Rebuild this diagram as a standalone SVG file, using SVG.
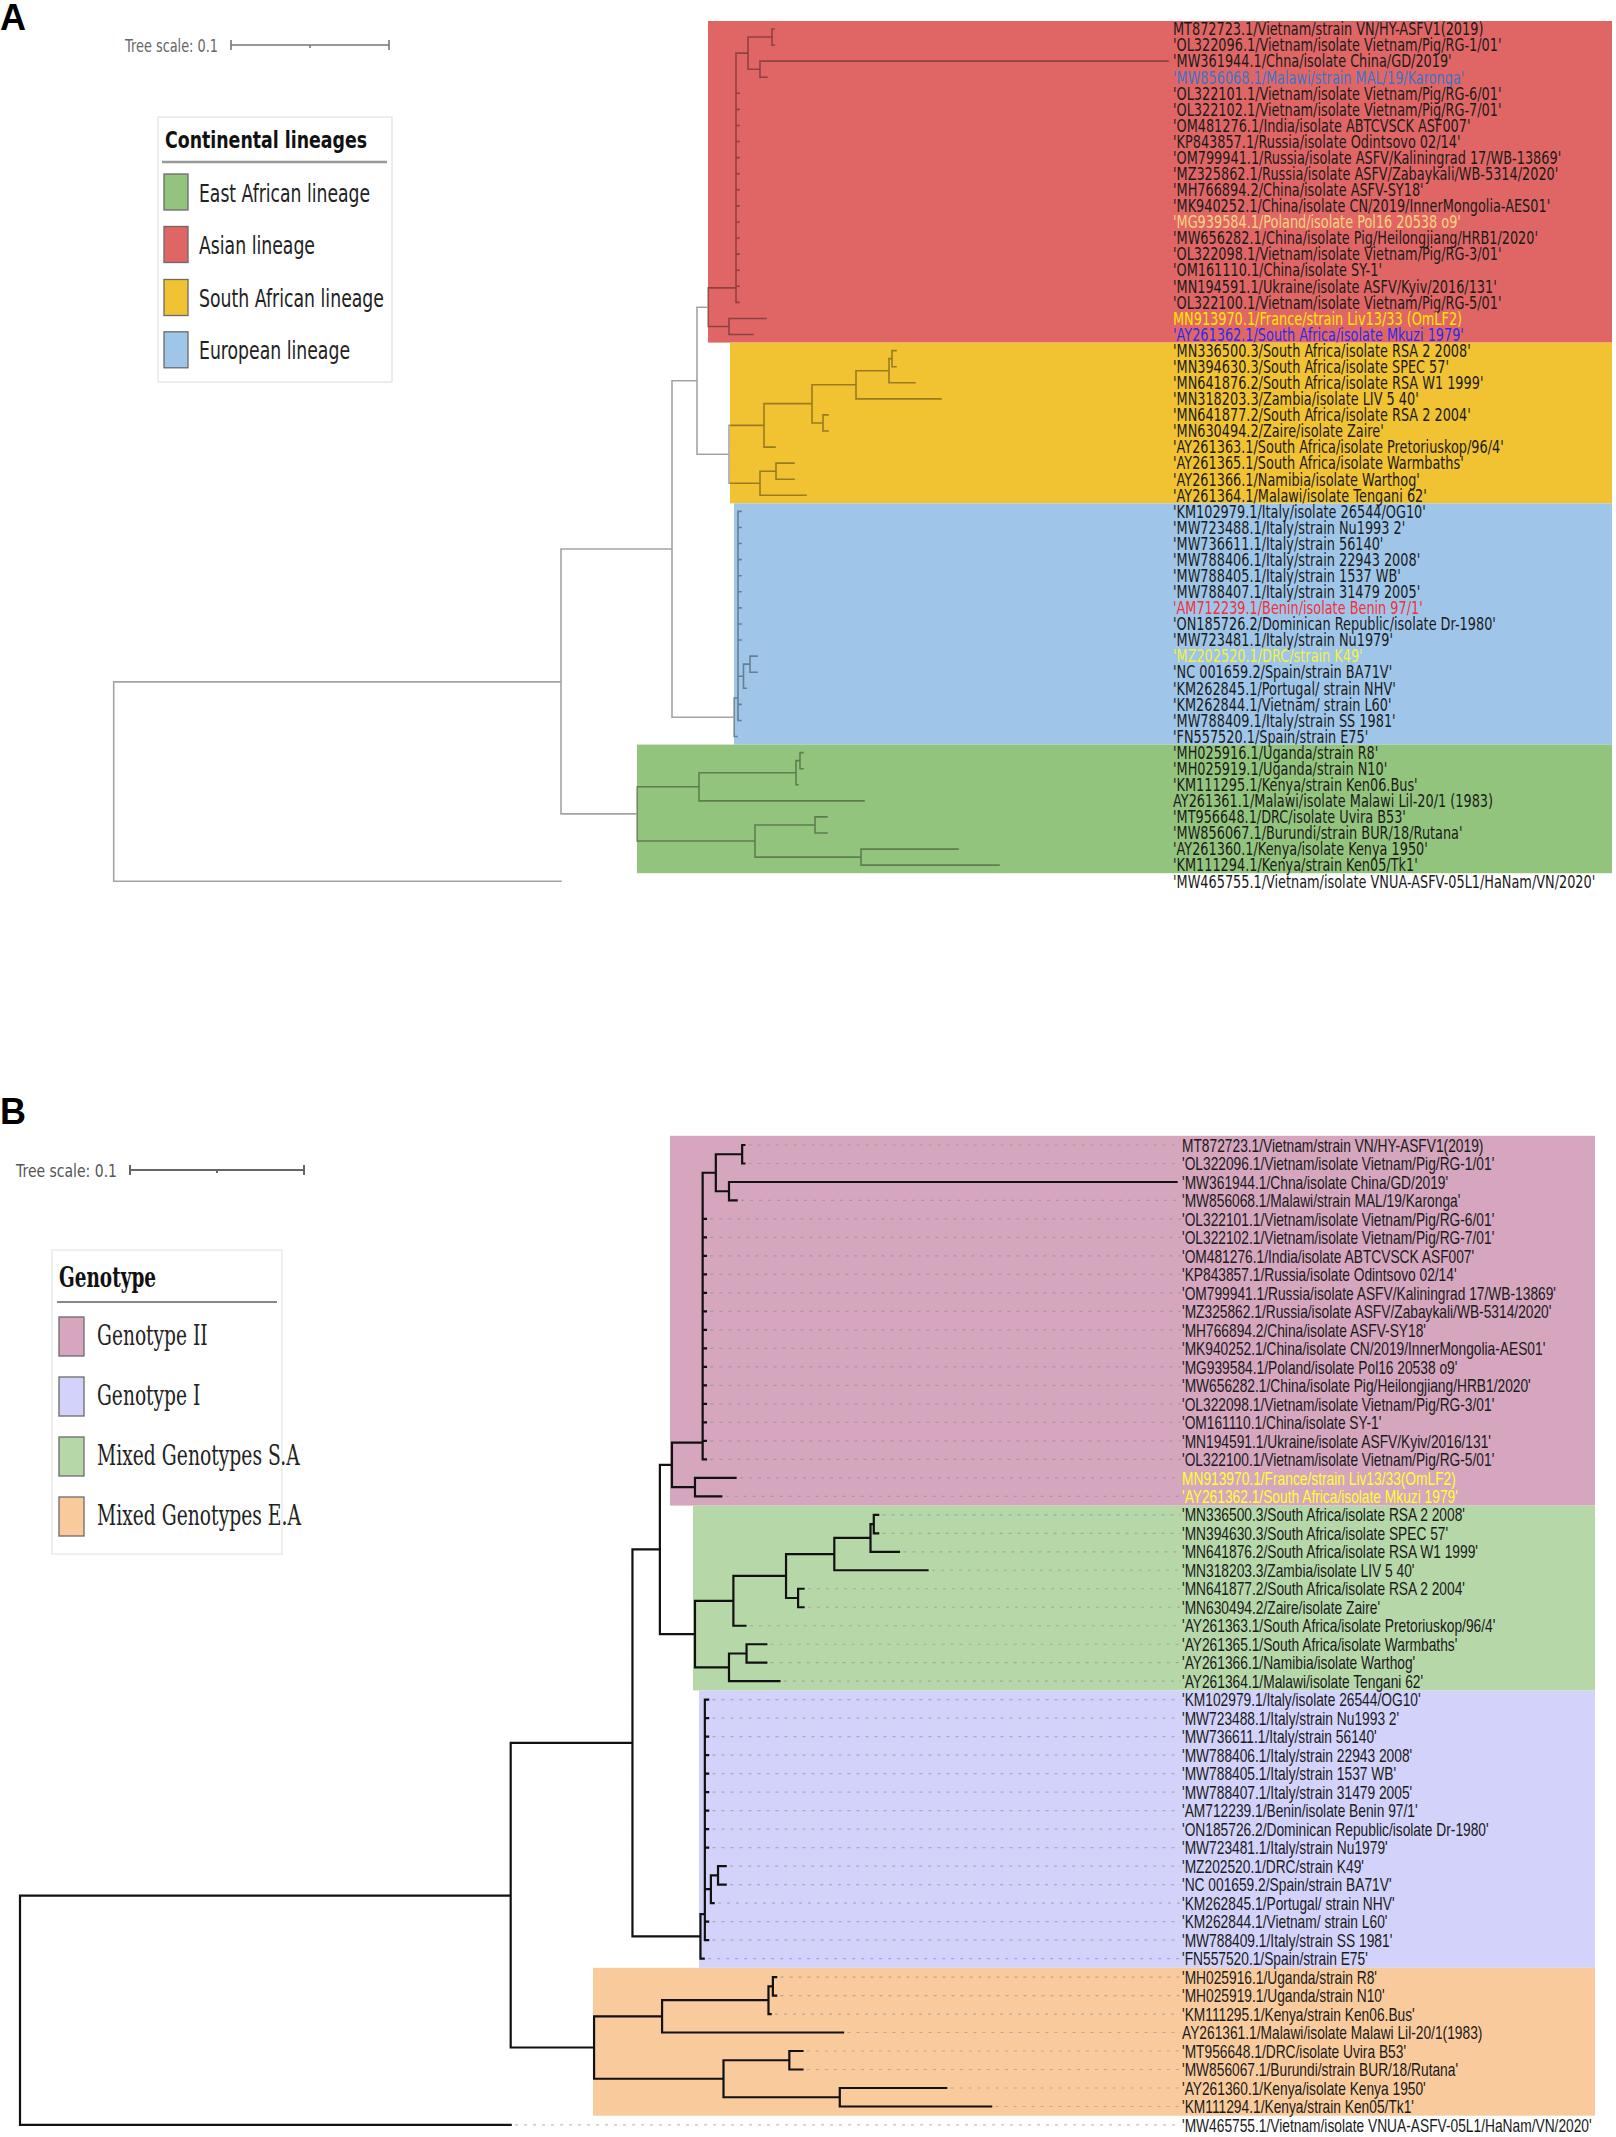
<svg xmlns="http://www.w3.org/2000/svg" width="1616" height="2137" viewBox="0 0 1616 2137">
<style>
.treeA{fill:none;stroke:#000;stroke-opacity:0.36;stroke-width:1.6;stroke-linecap:square}
.treeB{fill:none;stroke:#111;stroke-width:2.2;stroke-linecap:square}
.lead{fill:none;stroke:#8a8a8a;stroke-opacity:0.55;stroke-width:1.2;stroke-dasharray:3 6}
.labA text{font-family:"DejaVu Sans",sans-serif;font-size:17px;fill:#1a1a1a}
.labB text{font-family:"Liberation Sans",Arial,sans-serif;font-size:18px;fill:#1a1a1a}
.legA{font-family:"DejaVu Sans",sans-serif;font-size:25px;fill:#222}
.legB{font-family:"DejaVu Serif",serif;font-size:27px;fill:#222}
.sw{stroke:#6a6a6a;stroke-width:1.3}
.scale{fill:none;stroke:#777;stroke-width:1.6}
.panel{font-family:"Liberation Sans",Arial,sans-serif;font-weight:bold;font-size:36px;fill:#000}
</style>
<defs>
<path id="treeShape" vector-effect="non-scaling-stroke" d="M113.7 40.6V53M113.7 40.6H561M113.7 53H561
M561 32.34V48.81M561 32.34H672M561 48.81H637
M672 21.875V42.8M672 21.875H697M672 42.8H734
M697 17.3V26.45M697 17.3H708M697 26.45H729
M708 16.1V18.5M708 16.1H736M708 18.5H729
M729 18V19M729 18H766M729 19H753
M736 1.5V17M736 1.5H748
M736 4H739M736 5H739M736 6H739M736 7H739M736 8H739M736 9H739M736 10H739M736 11H739M736 12H739M736 13H739M736 14H739M736 15H739M736 16H739M736 17H739
M748 0.5V2.5M748 0.5H772M748 2.5H760
M772 0V1M772 0H774M772 1H774
M760 2V3M760 2H1168M760 3H767
M729 24.65V28.25M729 24.65H764M729 28.25H760
M764 23.3V26M764 23.3H812M764 26H775
M812 22.125V24.5M812 22.125H856M812 24.5H823
M856 21.25V23M856 21.25H889M856 23H941
M889 20.5V22M889 20.5H892M889 22H915
M892 20V21M892 20H896M892 21H896
M823 24V25M823 24H828M823 25H828
M760 27.5V29M760 27.5H776M760 29H806
M776 27V28M776 27H794M776 28H794
M734 41.6V44M734 41.6H738M734 44H737
M738 30V43
M738 30H741M738 31H741M738 32H741M738 33H741M738 34H741M738 35H741M738 36H741M738 37H741M738 38H741M738 42H741M738 43H741
M738 40.25H743.5M743.5 39.5V41M743.5 41H746M743.5 39.5H750
M750 39V40M750 39H757M750 40H757
M637 47.125V50.5M637 47.125H699M637 50.5H755
M699 46.25V48M699 46.25H796M699 48H864
M796 45.5V47M796 45.5H800M796 47H798
M800 45V46M800 45H803M800 46H803
M755 49.5V51.5M755 49.5H815M755 51.5H861
M815 49V50M815 49H827M815 50H827
M861 51V52M861 51H958M861 52H999"/>
</defs>
<rect width="1616" height="2137" fill="#fff"/>

<!-- ================= PANEL A ================= -->
<g id="panel-A">
<text class="panel" x="0" y="30">A</text>
<g id="scale-A">
<text x="125" y="52" font-family="DejaVu Sans,sans-serif" font-size="17" fill="#666" textLength="93" lengthAdjust="spacingAndGlyphs">Tree scale: 0.1</text>
<path class="scale" d="M231 45H389M231 40V50M389 40V50M310 45V48"/>
</g>
<g id="clades-A">
<rect id="clade-asian" x="708" y="21" width="904" height="321.6" fill="#e06666"/>
<rect id="clade-southafrican" x="730" y="342.6" width="882" height="160.8" fill="#f1c232"/>
<rect id="clade-european" x="734" y="503.4" width="878" height="241.2" fill="#9fc5e8"/>
<rect id="clade-eastafrican" x="637" y="744.6" width="975" height="128.6" fill="#93c47d"/>
</g>
<g id="tree-A" transform="matrix(1,0,0,16.08,0,29)">
<use href="#treeShape" class="treeA"/>
</g>
<g id="legend-A">
<rect x="158" y="117" width="234" height="265" fill="#fff" stroke="#e2e2e2" stroke-width="1.2"/>
<text x="165" y="148" font-family="DejaVu Sans,sans-serif" font-weight="bold" font-size="23" fill="#111" textLength="202" lengthAdjust="spacingAndGlyphs">Continental lineages</text>
<line x1="162" y1="162" x2="387" y2="162" stroke="#999" stroke-width="2.5"/>
<g id="leg-east"><rect class="sw" x="164" y="174" width="24" height="36" fill="#93c47d"/><text class="legA" x="199" y="201.5" textLength="171" lengthAdjust="spacingAndGlyphs">East African lineage</text></g>
<g id="leg-asian"><rect class="sw" x="164" y="226.5" width="24" height="36" fill="#e06666"/><text class="legA" x="199" y="254" textLength="116" lengthAdjust="spacingAndGlyphs">Asian lineage</text></g>
<g id="leg-south"><rect class="sw" x="164" y="279.5" width="24" height="36" fill="#f1c232"/><text class="legA" x="199" y="307" textLength="185" lengthAdjust="spacingAndGlyphs">South African lineage</text></g>
<g id="leg-euro"><rect class="sw" x="164" y="331.8" width="24" height="36" fill="#9fc5e8"/><text class="legA" x="199" y="359" textLength="151" lengthAdjust="spacingAndGlyphs">European lineage</text></g>
</g>
<g id="labels-A" class="labA" transform="translate(1173,0) scale(0.757,1)">
<text x="0" y="35.3">MT872723.1/Vietnam/strain VN/HY-ASFV1(2019)</text>
<text x="0" y="51.38">'OL322096.1/Vietnam/isolate Vietnam/Pig/RG-1/01'</text>
<text x="0" y="67.46">'MW361944.1/Chna/isolate China/GD/2019'</text>
<text x="0" y="83.54" style="fill:#3d74c6">'MW856068.1/Malawi/strain MAL/19/Karonga'</text>
<text x="0" y="99.62">'OL322101.1/Vietnam/isolate Vietnam/Pig/RG-6/01'</text>
<text x="0" y="115.7">'OL322102.1/Vietnam/isolate Vietnam/Pig/RG-7/01'</text>
<text x="0" y="131.78">'OM481276.1/India/isolate ABTCVSCK ASF007'</text>
<text x="0" y="147.86">'KP843857.1/Russia/isolate Odintsovo 02/14'</text>
<text x="0" y="163.94">'OM799941.1/Russia/isolate ASFV/Kaliningrad 17/WB-13869'</text>
<text x="0" y="180.02">'MZ325862.1/Russia/isolate ASFV/Zabaykali/WB-5314/2020'</text>
<text x="0" y="196.1">'MH766894.2/China/isolate ASFV-SY18'</text>
<text x="0" y="212.18">'MK940252.1/China/isolate CN/2019/InnerMongolia-AES01'</text>
<text x="0" y="228.26" style="fill:#f8d47c">'MG939584.1/Poland/isolate Pol16 20538 o9'</text>
<text x="0" y="244.34">'MW656282.1/China/isolate Pig/Heilongjiang/HRB1/2020'</text>
<text x="0" y="260.42">'OL322098.1/Vietnam/isolate Vietnam/Pig/RG-3/01'</text>
<text x="0" y="276.5">'OM161110.1/China/isolate SY-1'</text>
<text x="0" y="292.58">'MN194591.1/Ukraine/isolate ASFV/Kyiv/2016/131'</text>
<text x="0" y="308.66">'OL322100.1/Vietnam/isolate Vietnam/Pig/RG-5/01'</text>
<text x="0" y="324.74" style="fill:#ffe600">MN913970.1/France/strain Liv13/33 (OmLF2)</text>
<text x="0" y="340.82" style="fill:#2b2bf0">'AY261362.1/South Africa/isolate Mkuzi 1979'</text>
<text x="0" y="356.9">'MN336500.3/South Africa/isolate RSA 2 2008'</text>
<text x="0" y="372.98">'MN394630.3/South Africa/isolate SPEC 57'</text>
<text x="0" y="389.06">'MN641876.2/South Africa/isolate RSA W1 1999'</text>
<text x="0" y="405.14">'MN318203.3/Zambia/isolate LIV 5 40'</text>
<text x="0" y="421.22">'MN641877.2/South Africa/isolate RSA 2 2004'</text>
<text x="0" y="437.3">'MN630494.2/Zaire/isolate Zaire'</text>
<text x="0" y="453.38">'AY261363.1/South Africa/isolate Pretoriuskop/96/4'</text>
<text x="0" y="469.46">'AY261365.1/South Africa/isolate Warmbaths'</text>
<text x="0" y="485.54">'AY261366.1/Namibia/isolate Warthog'</text>
<text x="0" y="501.62">'AY261364.1/Malawi/isolate Tengani 62'</text>
<text x="0" y="517.7">'KM102979.1/Italy/isolate 26544/OG10'</text>
<text x="0" y="533.78">'MW723488.1/Italy/strain Nu1993 2'</text>
<text x="0" y="549.86">'MW736611.1/Italy/strain 56140'</text>
<text x="0" y="565.94">'MW788406.1/Italy/strain 22943 2008'</text>
<text x="0" y="582.02">'MW788405.1/Italy/strain 1537 WB'</text>
<text x="0" y="598.1">'MW788407.1/Italy/strain 31479 2005'</text>
<text x="0" y="614.18" style="fill:#f4303a">'AM712239.1/Benin/isolate Benin 97/1'</text>
<text x="0" y="630.26">'ON185726.2/Dominican Republic/isolate Dr-1980'</text>
<text x="0" y="646.34">'MW723481.1/Italy/strain Nu1979'</text>
<text x="0" y="662.42" style="fill:#f2f23c">'MZ202520.1/DRC/strain K49'</text>
<text x="0" y="678.5">'NC 001659.2/Spain/strain BA71V'</text>
<text x="0" y="694.58">'KM262845.1/Portugal/ strain NHV'</text>
<text x="0" y="710.66">'KM262844.1/Vietnam/ strain L60'</text>
<text x="0" y="726.74">'MW788409.1/Italy/strain SS 1981'</text>
<text x="0" y="742.82">'FN557520.1/Spain/strain E75'</text>
<text x="0" y="758.9">'MH025916.1/Uganda/strain R8'</text>
<text x="0" y="774.98">'MH025919.1/Uganda/strain N10'</text>
<text x="0" y="791.06">'KM111295.1/Kenya/strain Ken06.Bus'</text>
<text x="0" y="807.14">AY261361.1/Malawi/isolate Malawi Lil-20/1 (1983)</text>
<text x="0" y="823.22">'MT956648.1/DRC/isolate Uvira B53'</text>
<text x="0" y="839.3">'MW856067.1/Burundi/strain BUR/18/Rutana'</text>
<text x="0" y="855.38">'AY261360.1/Kenya/isolate Kenya 1950'</text>
<text x="0" y="871.46">'KM111294.1/Kenya/strain Ken05/Tk1'</text>
<text x="0" y="887.54">'MW465755.1/Vietnam/isolate VNUA-ASFV-05L1/HaNam/VN/2020'</text>
</g>
</g>

<!-- ================= PANEL B ================= -->
<g id="panel-B">
<text class="panel" x="0" y="1124">B</text>
<g id="scale-B">
<text x="16" y="1177" font-family="DejaVu Sans,sans-serif" font-size="18" fill="#555" textLength="101" lengthAdjust="spacingAndGlyphs">Tree scale: 0.1</text>
<path class="scale" style="stroke:#666;stroke-width:2" d="M130 1170H304M130 1165V1175M304 1165V1175M217 1170V1173"/>
</g>
<g id="clades-B">
<rect id="clade-genotypeII" x="670" y="1135.8" width="925" height="369.8" fill="#d5a6bd"/>
<rect id="clade-mixedSA" x="693" y="1505.6" width="902" height="184.9" fill="#b6d7a8"/>
<rect id="clade-genotypeI" x="699" y="1690.5" width="896" height="277.3" fill="#d2d2fa"/>
<rect id="clade-mixedEA" x="593" y="1967.8" width="1002" height="147.9" fill="#f9cb9c"/>
</g>
<g id="leaders-B" transform="matrix(1.097,0,0,18.49,-104.73,1145)">
<path class="lead" vector-effect="non-scaling-stroke" d="M778 0H1172M778 1H1172M771 3H1172M743 4H1172M743 5H1172M743 6H1172M743 7H1172M743 8H1172M743 9H1172M743 10H1172M743 11H1172M743 12H1172M743 13H1172M743 14H1172M743 15H1172M743 16H1172M743 17H1172M770 18H1172M757 19H1172M900 20H1172M900 21H1172M919 22H1172M945 23H1172M832 24H1172M832 25H1172M779 26H1172M798 27H1172M798 28H1172M810 29H1172M745 30H1172M745 31H1172M745 32H1172M745 33H1172M745 34H1172M745 35H1172M745 36H1172M745 37H1172M745 38H1172M761 39H1172M761 40H1172M750 41H1172M745 42H1172M745 43H1172M741 44H1172M807 45H1172M807 46H1172M802 47H1172M868 48H1172M831 49H1172M831 50H1172M962 51H1172M1003 52H1172M565 53H1172"/>
</g>
<g id="tree-B" transform="matrix(1.097,0,0,18.49,-104.73,1145)">
<use href="#treeShape" class="treeB"/>
</g>
<g id="legend-B">
<rect x="52" y="1250" width="230" height="304" fill="#fff" stroke="#e6e6e6" stroke-width="1.2"/>
<text x="59" y="1287" font-family="DejaVu Serif,serif" font-weight="bold" font-size="28" fill="#111" textLength="97" lengthAdjust="spacingAndGlyphs">Genotype</text>
<line x1="57" y1="1302" x2="277" y2="1302" stroke="#888" stroke-width="2"/>
<g id="leg-g2"><rect class="sw" x="59" y="1317" width="25" height="39" fill="#d5a6bd"/><text class="legB" x="97" y="1345" textLength="110.7" lengthAdjust="spacingAndGlyphs">Genotype II</text></g>
<g id="leg-g1"><rect class="sw" x="59" y="1377" width="25" height="39" fill="#d2d2fa"/><text class="legB" x="97" y="1405" textLength="103.3" lengthAdjust="spacingAndGlyphs">Genotype I</text></g>
<g id="leg-sa"><rect class="sw" x="59" y="1437" width="25" height="39" fill="#b6d7a8"/><text class="legB" x="97" y="1465" textLength="202.7" lengthAdjust="spacingAndGlyphs">Mixed Genotypes S.A</text></g>
<g id="leg-ea"><rect class="sw" x="59" y="1497" width="25" height="39" fill="#f9cb9c"/><text class="legB" x="97" y="1525" textLength="204" lengthAdjust="spacingAndGlyphs">Mixed Genotypes E.A</text></g>
</g>
<g id="labels-B" class="labB" transform="translate(1182,0) scale(0.765,1)">
<text x="0" y="1151.7">MT872723.1/Vietnam/strain VN/HY-ASFV1(2019)</text>
<text x="0" y="1170.19">'OL322096.1/Vietnam/isolate Vietnam/Pig/RG-1/01'</text>
<text x="0" y="1188.68">'MW361944.1/Chna/isolate China/GD/2019'</text>
<text x="0" y="1207.17">'MW856068.1/Malawi/strain MAL/19/Karonga'</text>
<text x="0" y="1225.66">'OL322101.1/Vietnam/isolate Vietnam/Pig/RG-6/01'</text>
<text x="0" y="1244.15">'OL322102.1/Vietnam/isolate Vietnam/Pig/RG-7/01'</text>
<text x="0" y="1262.64">'OM481276.1/India/isolate ABTCVSCK ASF007'</text>
<text x="0" y="1281.13">'KP843857.1/Russia/isolate Odintsovo 02/14'</text>
<text x="0" y="1299.62">'OM799941.1/Russia/isolate ASFV/Kaliningrad 17/WB-13869'</text>
<text x="0" y="1318.11">'MZ325862.1/Russia/isolate ASFV/Zabaykali/WB-5314/2020'</text>
<text x="0" y="1336.6">'MH766894.2/China/isolate ASFV-SY18'</text>
<text x="0" y="1355.09">'MK940252.1/China/isolate CN/2019/InnerMongolia-AES01'</text>
<text x="0" y="1373.58">'MG939584.1/Poland/isolate Pol16 20538 o9'</text>
<text x="0" y="1392.07">'MW656282.1/China/isolate Pig/Heilongjiang/HRB1/2020'</text>
<text x="0" y="1410.56">'OL322098.1/Vietnam/isolate Vietnam/Pig/RG-3/01'</text>
<text x="0" y="1429.05">'OM161110.1/China/isolate SY-1'</text>
<text x="0" y="1447.54">'MN194591.1/Ukraine/isolate ASFV/Kyiv/2016/131'</text>
<text x="0" y="1466.03">'OL322100.1/Vietnam/isolate Vietnam/Pig/RG-5/01'</text>
<text x="0" y="1484.52" style="fill:#ffff33">MN913970.1/France/strain Liv13/33(OmLF2)</text>
<text x="0" y="1503.01" style="fill:#ffff33">'AY261362.1/South Africa/isolate Mkuzi 1979'</text>
<text x="0" y="1521.5">'MN336500.3/South Africa/isolate RSA 2 2008'</text>
<text x="0" y="1539.99">'MN394630.3/South Africa/isolate SPEC 57'</text>
<text x="0" y="1558.48">'MN641876.2/South Africa/isolate RSA W1 1999'</text>
<text x="0" y="1576.97">'MN318203.3/Zambia/isolate LIV 5 40'</text>
<text x="0" y="1595.46">'MN641877.2/South Africa/isolate RSA 2 2004'</text>
<text x="0" y="1613.95">'MN630494.2/Zaire/isolate Zaire'</text>
<text x="0" y="1632.44">'AY261363.1/South Africa/isolate Pretoriuskop/96/4'</text>
<text x="0" y="1650.93">'AY261365.1/South Africa/isolate Warmbaths'</text>
<text x="0" y="1669.42">'AY261366.1/Namibia/isolate Warthog'</text>
<text x="0" y="1687.91">'AY261364.1/Malawi/isolate Tengani 62'</text>
<text x="0" y="1706.4">'KM102979.1/Italy/isolate 26544/OG10'</text>
<text x="0" y="1724.89">'MW723488.1/Italy/strain Nu1993 2'</text>
<text x="0" y="1743.38">'MW736611.1/Italy/strain 56140'</text>
<text x="0" y="1761.87">'MW788406.1/Italy/strain 22943 2008'</text>
<text x="0" y="1780.36">'MW788405.1/Italy/strain 1537 WB'</text>
<text x="0" y="1798.85">'MW788407.1/Italy/strain 31479 2005'</text>
<text x="0" y="1817.34">'AM712239.1/Benin/isolate Benin 97/1'</text>
<text x="0" y="1835.83">'ON185726.2/Dominican Republic/isolate Dr-1980'</text>
<text x="0" y="1854.32">'MW723481.1/Italy/strain Nu1979'</text>
<text x="0" y="1872.81">'MZ202520.1/DRC/strain K49'</text>
<text x="0" y="1891.3">'NC 001659.2/Spain/strain BA71V'</text>
<text x="0" y="1909.79">'KM262845.1/Portugal/ strain NHV'</text>
<text x="0" y="1928.28">'KM262844.1/Vietnam/ strain L60'</text>
<text x="0" y="1946.77">'MW788409.1/Italy/strain SS 1981'</text>
<text x="0" y="1965.26">'FN557520.1/Spain/strain E75'</text>
<text x="0" y="1983.75">'MH025916.1/Uganda/strain R8'</text>
<text x="0" y="2002.24">'MH025919.1/Uganda/strain N10'</text>
<text x="0" y="2020.73">'KM111295.1/Kenya/strain Ken06.Bus'</text>
<text x="0" y="2039.22">AY261361.1/Malawi/isolate Malawi Lil-20/1(1983)</text>
<text x="0" y="2057.71">'MT956648.1/DRC/isolate Uvira B53'</text>
<text x="0" y="2076.2">'MW856067.1/Burundi/strain BUR/18/Rutana'</text>
<text x="0" y="2094.69">'AY261360.1/Kenya/isolate Kenya 1950'</text>
<text x="0" y="2113.18">'KM111294.1/Kenya/strain Ken05/Tk1'</text>
<text x="0" y="2131.67">'MW465755.1/Vietnam/isolate VNUA-ASFV-05L1/HaNam/VN/2020'</text>
</g>
</g>
</svg>
